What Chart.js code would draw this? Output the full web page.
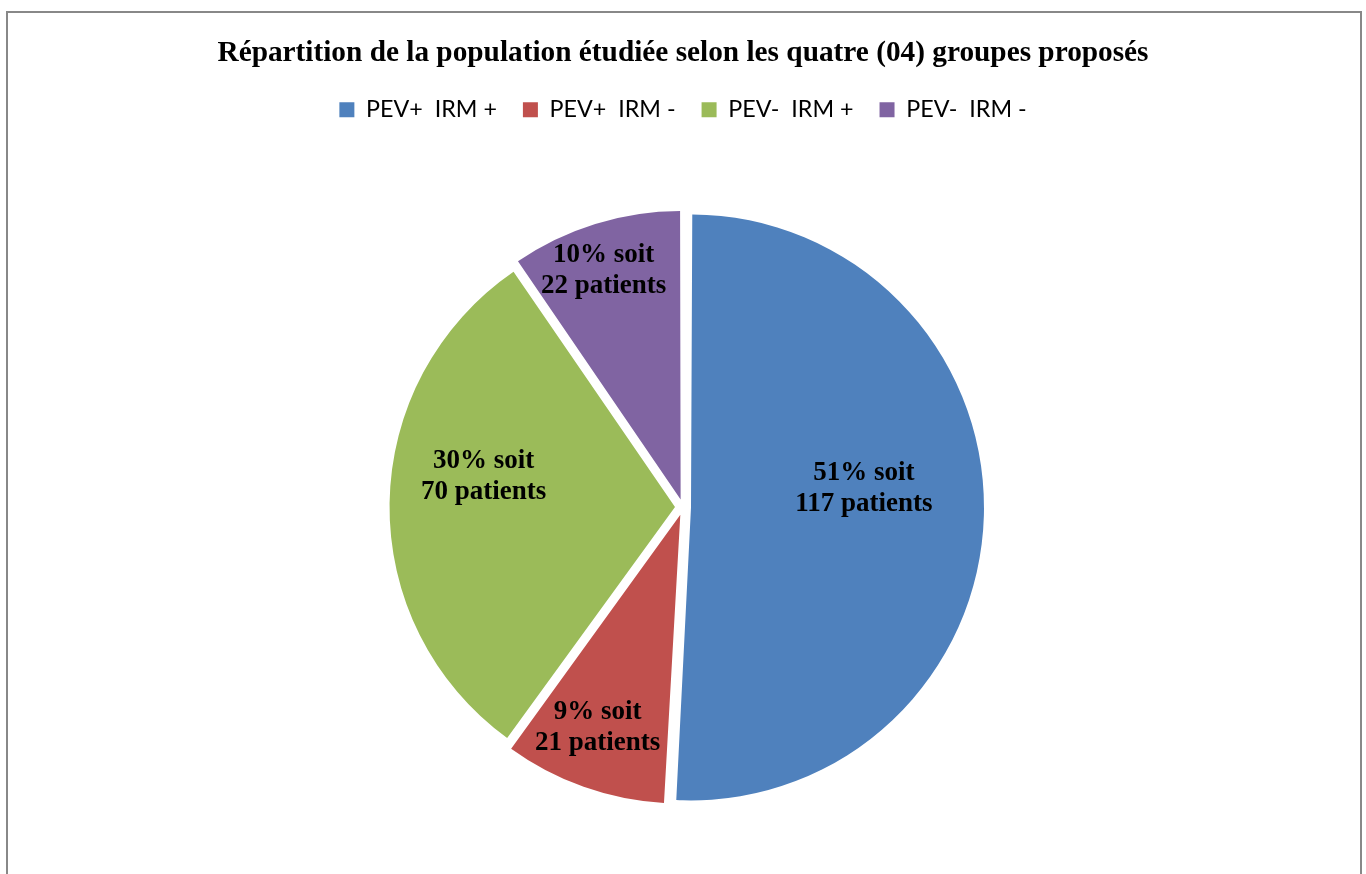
<!DOCTYPE html>
<html>
<head>
<meta charset="utf-8">
<script src="https://cdn.jsdelivr.net/npm/chart.js@4.4.1/dist/chart.umd.min.js"></script>
<style>
  html, body { margin: 0; padding: 0; background: #fff; overflow: hidden; }
  #frame { position: absolute; left: 6px; top: 11px; width: 1352px; height: 940px; border: 2px solid #888; }
  #wrap { position: absolute; left: 0; top: 0; width: 1366px; height: 1000px; }
</style>
</head>
<body>
<div id="frame"></div>
<div id="wrap"><canvas id="mycanvas" width="1366" height="1000"></canvas></div>
<script>
var titleText = 'Répartition de la population étudiée selon les quatre (04) groupes proposés';
var categories = ['PEV+  IRM +', 'PEV+  IRM -', 'PEV-  IRM +', 'PEV-  IRM -'];
var patients = [117, 21, 70, 22];
var percents = [51, 9, 30, 10];
var colors = ['#4F81BD', '#C0504D', '#9BBB59', '#8064A2'];

// where each label sits inside its slice (fraction of radius, angle nudge in degrees)
var labelFrac = [0.61, 0.80, 0.68, 0.85];
var labelShift = [-7.9, 1.7, 8.3, -1.3];

var sliceLabels = {
	id: 'sliceLabels',
	afterDatasetsDraw: function(chart) {
		var ctx = chart.ctx;
		var meta = chart.getDatasetMeta(0);
		// chart.js v4 draws arcs moved by offset / 4
		var off = chart.data.datasets[0].offset / 4;
		ctx.save();
		ctx.font = 'bold 27px "Liberation Serif", "Times New Roman", serif';
		ctx.fillStyle = '#000';
		ctx.textAlign = 'center';
		ctx.textBaseline = 'middle';
		meta.data.forEach(function(arc, i) {
			var p = arc.getProps(['x', 'y', 'startAngle', 'endAngle', 'outerRadius'], true);
			var mid = (p.startAngle + p.endAngle) / 2;
			var cx = p.x + Math.cos(mid) * off;
			var cy = p.y + Math.sin(mid) * off;
			var a = mid + labelShift[i] * Math.PI / 180;
			var d = labelFrac[i] * p.outerRadius;
			var lx = cx + Math.cos(a) * d;
			var ly = cy + Math.sin(a) * d;
			ctx.fillText(percents[i] + '% soit', lx, ly - 15);
			ctx.fillText(patients[i] + ' patients', lx, ly + 16);
		});
		ctx.restore();
	}
};

var ctx = document.getElementById('mycanvas');
var pieChart = new Chart(ctx, {
	type: 'pie',
	data: {
		labels: categories,
		datasets: [{
			data: patients,
			backgroundColor: colors,
			borderWidth: 0,
			offset: 32
		}]
	},
	options: {
		responsive: false,
		animation: false,
		radius: 285,
		layout: { padding: { top: 0, bottom: 117, left: 0, right: 0 } },
		plugins: {
			title: {
				display: true,
				text: titleText,
				color: '#000',
				font: { family: '"Liberation Serif", "Times New Roman", serif', size: 29.3, weight: 'bold' },
				padding: { top: 36, bottom: 1 }
			},
			legend: {
				position: 'top',
				labels: {
					color: '#000',
					font: { family: 'Lato, "Open Sans", sans-serif', size: 23.3 },
					boxWidth: 15,
					boxHeight: 15,
					padding: 26
				}
			},
			tooltip: { enabled: false }
		}
	},
	plugins: [sliceLabels]
});
</script>
</body>
</html>
